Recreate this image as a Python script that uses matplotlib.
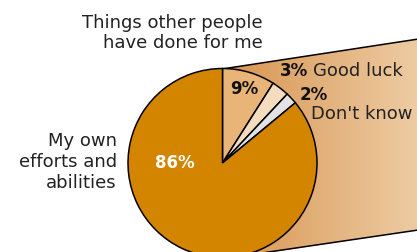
import numpy as np
import matplotlib
matplotlib.use('Agg')
import matplotlib.pyplot as plt
from matplotlib.patches import Polygon
from matplotlib.colors import LinearSegmentedColormap

labels = ['Things other people\nhave done for me', 'Good luck', "Don't know", 'My own\nefforts and\nabilities']
values = [9, 3, 2, 86]
colors = ['#e8b478', '#f5dcbe', '#e3e3e3', '#d48500']

W, H = 417, 252
fig = plt.figure(figsize=(W / 100, H / 100), dpi=100)
ax = fig.add_axes([0, 0, 1, 1])

cx, cy, r = 222.5, H - 163, 94.5

# band behind the pie (pixel coords, y down -> flip)
band = [(222, 69), (425, 38), (425, 229), (240, 257), (222, 163)]
band = [(x, H - y) for x, y in band]
poly = Polygon(band, closed=True, facecolor='none', edgecolor='none')
ax.add_patch(poly)
cmap = LinearSegmentedColormap.from_list('band', ['#d8944e', '#e2b07a', '#eecba2'])
grad = np.linspace(0, 1, 256).reshape(1, -1)
im = ax.imshow(grad, cmap=cmap, extent=[222, W, 0, H], aspect='auto', zorder=1)
im.set_clip_path(poly)
ax.plot([222, 425], [H - 69, H - 38], color='black', lw=1.1, zorder=2)
ax.plot([255, 425], [H - 254, H - 229], color='black', lw=1.1, zorder=2)

wedges, _ = ax.pie(values, colors=colors, startangle=90, counterclock=False,
                   center=(cx, cy), radius=r, frame=True,
                   wedgeprops=dict(edgecolor='black', linewidth=1.1))
for w in wedges:
    w.set_zorder(3)
ax.set_xlim(0, W)
ax.set_ylim(0, H)
ax.set_aspect('equal')
ax.axis('off')

fs = 12
fl = 13
ax.text(263, H - 33, labels[0], ha='right', va='center', fontsize=fl, color='#222222',
        linespacing=1.2, zorder=5)
ax.text(117, H - 162, labels[3], ha='right', va='center', fontsize=fl, color='#222222',
        linespacing=1.2, zorder=5)
ax.text(175, H - 163, f'{values[3]}%', ha='center', va='center', fontsize=fs,
        fontweight='bold', color='white', zorder=5)
ax.text(244, H - 89, f'{values[0]}%', ha='center', va='center', fontsize=fs,
        fontweight='bold', color='#111111', zorder=5)
ax.text(280, H - 71, f'{values[1]}%', ha='left', va='center', fontsize=fs,
        fontweight='bold', color='#111111', zorder=5)
ax.text(313, H - 71, labels[1], ha='left', va='center', fontsize=fl, color='#222222', zorder=5)
ax.text(300, H - 95, f'{values[2]}%', ha='left', va='center', fontsize=fs,
        fontweight='bold', color='#111111', zorder=5)
ax.text(311, H - 114, labels[2], ha='left', va='center', fontsize=fl, color='#222222', zorder=5)

fig.savefig('out.png', dpi=100)
